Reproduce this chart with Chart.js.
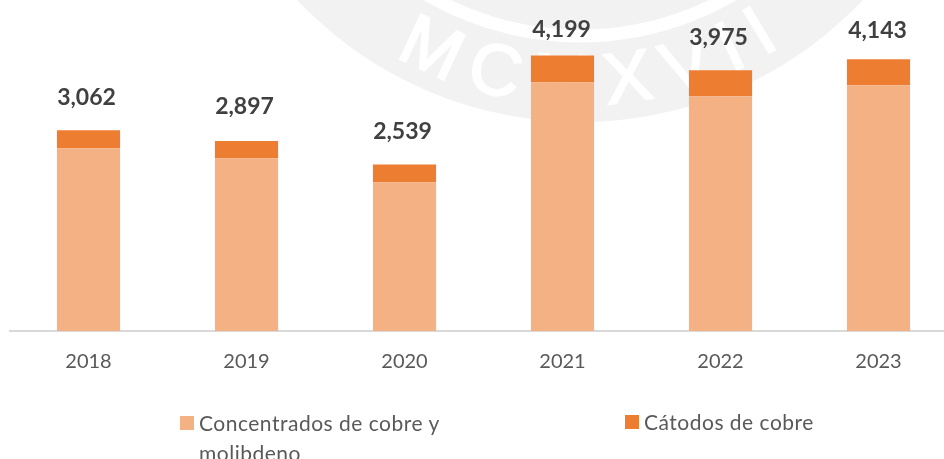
<!DOCTYPE html>
<html>
<head>
<meta charset="utf-8">
<script src="https://cdn.jsdelivr.net/npm/chart.js@4"></script>
<style>
  html, body { margin: 0; padding: 0; background: #fff; }
  #page { position: relative; width: 944px; height: 459px; overflow: hidden; font-family: Lato, sans-serif; }
  #seal { position: absolute; left: 0; top: 0; }
  #wrap { position: absolute; left: 0; top: 0; width: 967px; height: 459px; }
  .key { position: absolute; color: #595959; font-size: 21px; letter-spacing: 0.5px; line-height: 30px; }
  .key i { position: absolute; left: -19px; top: 8px; width: 14px; height: 14px; }
</style>
</head>
<body>
<div id="page">
  <svg id="seal" width="944" height="459">
    <circle cx="580" cy="-267" r="389" fill="#f2f2f2"></circle>
    <circle cx="580" cy="-267" r="303" fill="none" stroke="#fff" stroke-width="13"></circle>
    <path id="sealArc" d="M258 -81 A372 372 0 0 0 902 -81" fill="none"></path>
    <text font-family="Liberation Sans" font-size="72" fill="#fff" stroke="#fff" stroke-width="2">
      <textPath href="#sealArc" startOffset="196" textLength="405">MCMXVII</textPath>
    </text>
  </svg>
  <div id="wrap"><canvas id="barChart"></canvas></div>
  <div class="key" id="key0" style="left:199px;top:408px;width:260px"></div>
  <div class="key" id="key1" style="left:644px;top:407px;width:260px"></div>
</div>
<script>
const years = ['2018', '2019', '2020', '2021', '2022', '2023'];
const concentrados = [2785, 2632, 2267, 3793, 3580, 3748];
const catodos = [277, 265, 272, 406, 395, 395];
const totals = [3062, 2897, 2539, 4199, 3975, 4143];
const seriesNames = ['Concentrados de cobre y molibdeno', 'Cátodos de cobre'];
const seriesColors = ['#F4B183', '#ED7D31'];

// the labels were moved by hand in the original, so they do not sit evenly
const labelNudgeX = [-2, -2, -2, -1, -2, -1];
const labelGap = [33, 34, 33, 26, 33, 29];

const totalLabels = {
  id: 'totalLabels',
  afterDatasetsDraw(chart) {
    const ctx = chart.ctx;
    const x = chart.scales.x;
    const y = chart.scales.y;
    ctx.save();
    ctx.font = 'bold 23px Lato, sans-serif';
    ctx.fillStyle = '#404040';
    ctx.textAlign = 'center';
    ctx.textBaseline = 'middle';
    totals.forEach((t, i) => {
      ctx.fillText(t.toLocaleString('en-US'), x.getPixelForValue(i) + labelNudgeX[i], y.getPixelForValue(t) - labelGap[i]);
    });
    ctx.restore();
  }
};

new Chart(document.getElementById('barChart'), {
  type: 'bar',
  data: {
    labels: years,
    datasets: [
      { label: seriesNames[0], data: concentrados, backgroundColor: seriesColors[0] },
      { label: seriesNames[1], data: catodos, backgroundColor: seriesColors[1] }
    ]
  },
  options: {
    responsive: true,
    maintainAspectRatio: false,
    animation: false,
    barPercentage: 0.4,
    categoryPercentage: 1,
    layout: { padding: { left: 9.5, right: 9.5, top: 3, bottom: 0 } },
    plugins: { legend: { display: false }, tooltip: { enabled: false } },
    scales: {
      x: {
        stacked: true,
        grid: { drawOnChartArea: false, drawTicks: false },
        border: { color: '#D9D9D9', width: 2 },
        ticks: { color: '#595959', font: { family: 'Lato, sans-serif', size: 20 }, padding: 19 },
        afterFit(scale) { scale.height = 128; }
      },
      y: { stacked: true, display: false, min: 0, max: 5000 }
    }
  },
  plugins: [totalLabels]
});

seriesNames.forEach((name, i) => {
  const key = document.getElementById('key' + i);
  key.textContent = name;
  const swatch = document.createElement('i');
  swatch.style.background = seriesColors[i];
  key.appendChild(swatch);
});
</script>
</body>
</html>
